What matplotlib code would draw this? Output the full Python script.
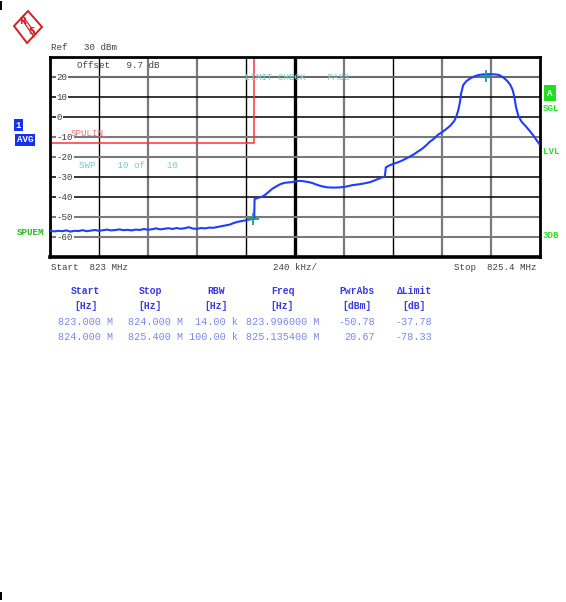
import numpy as np
import matplotlib
matplotlib.use("Agg")
import matplotlib.pyplot as plt
from matplotlib.patches import Rectangle, Polygon
import matplotlib.transforms as mtransforms

f_start = 823.0
f_stop = 825.4
ref_level = 30
bottom_level = -70
y_ticks = [20, 10, 0, -10, -20, -30, -40, -50, -60]

trace_freq = [
    823.00, 823.02, 823.04, 823.06, 823.08, 823.10, 823.12, 823.14, 823.16, 823.18,
    823.20, 823.22, 823.24, 823.26, 823.28, 823.30, 823.32, 823.34, 823.36, 823.38,
    823.40, 823.42, 823.44, 823.46, 823.48, 823.50, 823.52, 823.54, 823.56, 823.58,
    823.60, 823.62, 823.64, 823.66, 823.68, 823.70, 823.72, 823.74, 823.76, 823.78,
    823.80, 823.82, 823.84, 823.86, 823.88, 823.90, 823.92, 823.94, 823.96, 823.98,
    824.00, 824.002, 824.02, 824.04, 824.055, 824.07, 824.09, 824.11, 824.13, 824.15,
    824.18, 824.20, 824.22, 824.24, 824.27, 824.29, 824.31, 824.33, 824.36, 824.39,
    824.42, 824.45, 824.48, 824.51, 824.54, 824.57, 824.60, 824.62, 824.64, 824.645,
    824.66, 824.68, 824.70, 824.72, 824.74, 824.76, 824.78, 824.80, 824.82, 824.84,
    824.86, 824.88, 824.90, 824.92, 824.94, 824.96, 824.98, 824.99, 825.00, 825.008,
    825.014, 825.024, 825.04, 825.06, 825.08, 825.10, 825.12, 825.14, 825.16, 825.18,
    825.20, 825.22, 825.24, 825.255, 825.266, 825.274, 825.282, 825.294, 825.31, 825.33,
    825.35, 825.37, 825.39, 825.40,
]
trace_level = [
    -56.8, -57.2, -56.9, -57.1, -56.7, -57.3, -56.9, -57.0, -56.6, -57.1,
    -56.8, -56.5, -56.9, -56.6, -56.3, -56.7, -56.5, -56.2, -56.6, -56.4,
    -56.7, -56.3, -56.5, -56.0, -56.4, -56.1, -55.7, -56.2, -55.9, -55.6,
    -56.0, -55.5, -55.9, -55.6, -55.1, -55.8, -55.9, -55.5, -55.7, -55.3,
    -55.4, -55.0, -54.6, -54.2, -53.8, -53.0, -52.4, -52.0, -51.6, -51.2,
    -50.8, -41.0, -40.4, -39.8, -38.8, -37.5, -35.8, -34.6, -33.5, -32.9,
    -32.6, -32.3, -31.9, -32.1, -32.6, -33.2, -34.0, -34.6, -35.2, -35.3,
    -35.2, -34.8, -34.1, -33.7, -33.2, -32.5, -31.3, -30.4, -29.8, -25.2,
    -24.3, -23.5, -22.8, -22.0, -21.0, -19.9, -18.8, -17.4, -16.1, -14.4,
    -12.4, -10.9, -8.9, -7.6, -6.1, -4.4, -2.0, 0.2, 3.5, 7.5,
    12.0, 16.0, 18.0, 19.4, 20.4, 21.0, 21.3, 21.4, 21.4, 21.3,
    21.0, 19.8, 18.0, 16.0, 13.5, 10.2, 5.2, 0.5, -2.4, -4.6,
    -7.0, -9.6, -12.6, -14.0,
]

limit_freq = [823.0, 824.0, 824.0, 825.4]
limit_level = [-13, -13, 43, 43]

marker_freq = [823.996, 825.1354]
marker_level = [-50.78, 20.67]

# measurement table
col_head = ["Start", "Stop", "RBW", "Freq", "PwrAbs", "\u0394Limit"]
col_unit = ["[Hz]", "[Hz]", "[Hz]", "[Hz]", "[dBm]", "[dB]"]
row1 = ["823.000 M", "824.000 M", "14.00 k", "823.996000 M", "-50.78", "-37.78"]
row2 = ["824.000 M", "825.400 M", "100.00 k", "825.135400 M", "20.67", "-78.33"]

# ---- figure ----
W, H = 566, 602
fig = plt.figure(figsize=(W / 100, H / 100), dpi=100)
fig.patch.set_facecolor("white")
mono = "Liberation Mono"
txtc = "#404040"


def fx(px):
    return px / W


def fy(py):
    return 1 - py / H


ax = fig.add_axes([fx(50), fy(257), 490 / W, 200 / H])
ax.set_xlim(f_start, f_stop)
ax.set_ylim(bottom_level, ref_level)
ax.set_xticks([])
ax.set_yticks([])
for s in ax.spines.values():
    s.set_linewidth(2.0)
    s.set_color("black")
ax.spines["bottom"].set_linewidth(2.6)

# grid (mixed dark / grey lines like the screen)
div = (f_stop - f_start) / 10
vcols = ["k", "#7a7a7a", "#7a7a7a", "k", "k", "#7a7a7a", "k", "#7a7a7a", "#7a7a7a"]
vwid = [1.0, 1.6, 1.6, 1.0, 2.4, 1.6, 1.0, 1.6, 1.6]
for i in range(1, 10):
    ax.axvline(f_start + i * div, color=vcols[i - 1], lw=vwid[i - 1], zorder=1)
hcols = {20: "#6a6a6a", 10: "k", 0: "k", -10: "#7a7a7a", -20: "#7a7a7a",
         -30: "k", -40: "k", -50: "#7a7a7a", -60: "#7a7a7a"}
for lv in y_ticks:
    ax.axhline(lv, color=hcols[lv], lw=1.5 if hcols[lv] != "k" else 1.1, zorder=1)

# y labels inside the grid
tr = mtransforms.blended_transform_factory(ax.transAxes, ax.transData)
for lv in y_ticks:
    ax.text(6.5 / 490, lv, str(lv), transform=tr, fontsize=6.6, family=mono,
            color=txtc, ha="left", va="center", zorder=3,
            bbox=dict(boxstyle="square,pad=0.1", fc="white", ec="none"))

# limit line
ax.plot(limit_freq, limit_level, color="#ff3333", lw=1.1, zorder=2)
ax.text(21 / 490, -8.0, "SPULIN_", transform=tr, fontsize=6.6, family=mono,
        color="#f07070", ha="left", va="center", zorder=3)

# trace
ax.plot(trace_freq, trace_level, color="#1f3cff", lw=1.5, zorder=4)
ax.plot(marker_freq, marker_level, ls="none", marker="+", ms=9, mew=1.3,
        color="#1a9a9a", zorder=5)

# texts inside the screen
ax.text(27 / 490, 26, "Offset   9.7 dB", transform=tr, fontsize=6.6, family=mono,
        color=txtc, ha="left", va="center", zorder=3)
ax.text(195 / 490, 20, "LIMIT CHECK    PASS", transform=tr, fontsize=6.6, family=mono,
        color="#7cc8c8", ha="left", va="center", zorder=3)
ax.text(29 / 490, -24, "SWP    10 of    10", transform=tr, fontsize=6.6, family=mono,
        color="#7cc8c8", ha="left", va="center", zorder=3)

# texts around the screen
fig.text(fx(51), fy(47), "Ref   30 dBm", fontsize=6.6, family=mono, color=txtc, va="center")
fig.text(fx(51), fy(268), "Start  823 MHz", fontsize=6.6, family=mono, color=txtc, va="center")
fig.text(fx(295), fy(268), "240 kHz/", fontsize=6.6, family=mono, color=txtc, va="center", ha="center")
fig.text(fx(537), fy(268), "Stop  825.4 MHz", fontsize=6.6, family=mono, color=txtc, va="center", ha="right")

green = "#2ee02e"
fig.text(fx(550), fy(93), "A", fontsize=6.6, family=mono, color="white", weight="bold",
         ha="center", va="center",
         bbox=dict(boxstyle="square,pad=0.35", fc="#22dd22", ec="none"))
fig.text(fx(543), fy(108), "SGL", fontsize=6.6, family=mono, color=green, weight="bold", va="center")
fig.text(fx(543), fy(151), "LVL", fontsize=6.6, family=mono, color=green, weight="bold", va="center")
fig.text(fx(543), fy(235), "3DB", fontsize=6.6, family=mono, color=green, weight="bold", va="center")
fig.text(fx(17), fy(233), "SPUEM", fontsize=6.6, family=mono, color="#22bb22", weight="bold", va="center")
fig.text(fx(18.5), fy(125), "1", fontsize=6.6, family=mono, color="white", weight="bold",
         ha="center", va="center",
         bbox=dict(boxstyle="square,pad=0.2", fc="#1530f0", ec="none"))
fig.text(fx(25), fy(140), "AVG", fontsize=6.6, family=mono, color="white", weight="bold",
         ha="center", va="center",
         bbox=dict(boxstyle="square,pad=0.2", fc="#1530f0", ec="none"))

# measurement table
head_x = [85.5, 150.5, 216.5, 282.5, 356.5, 414.5]
right_x = [113, 183, 238, 319, 375, 432]
hc = "#3a3ae0"
dc = "#7888ea"
for i in range(6):
    fig.text(fx(head_x[i]), fy(291.5), col_head[i], fontsize=7, family=mono,
             color=hc, weight="bold", ha="center", va="center")
    fig.text(fx(head_x[i]), fy(306), col_unit[i], fontsize=7, family=mono,
             color=hc, weight="bold", ha="center", va="center")
    fig.text(fx(right_x[i]), fy(322), row1[i], fontsize=7.3, family=mono,
             color=dc, ha="right", va="center")
    fig.text(fx(right_x[i]), fy(337), row2[i], fontsize=7.3, family=mono,
             color=dc, ha="right", va="center")

# R&S logo (small red diamond)
red = "#d42020"
dia = [(fx(28), fy(11)), (fx(42), fy(27)), (fx(27), fy(43)), (fx(14), fy(26))]
fig.patches.append(Polygon(dia, closed=True, fill=False, ec=red, lw=1.4,
                           transform=fig.transFigure, figure=fig))
fig.lines.append(plt.Line2D([fx(21), fx(34)], [fy(18), fy(37)], color=red, lw=0.9,
                            transform=fig.transFigure, figure=fig))
fig.lines.append(plt.Line2D([fx(23), fx(36)], [fy(16), fy(35)], color=red, lw=0.9,
                            transform=fig.transFigure, figure=fig))
fig.text(fx(22.5), fy(21), "R", fontsize=6.5, family="DejaVu Sans", color=red,
         weight="bold", ha="center", va="center")
fig.text(fx(32), fy(32), "S", fontsize=6.5, family="DejaVu Sans", color=red,
         weight="bold", ha="center", va="center")

# little edge marks of the screenshot
fig.patches.append(Rectangle((0, fy(10)), fx(2), 9 / H, fc="black", ec="none",
                             transform=fig.transFigure, figure=fig))
fig.patches.append(Rectangle((0, fy(600)), fx(2), 8 / H, fc="black", ec="none",
                             transform=fig.transFigure, figure=fig))

fig.savefig("out.png", dpi=100, facecolor="white")
